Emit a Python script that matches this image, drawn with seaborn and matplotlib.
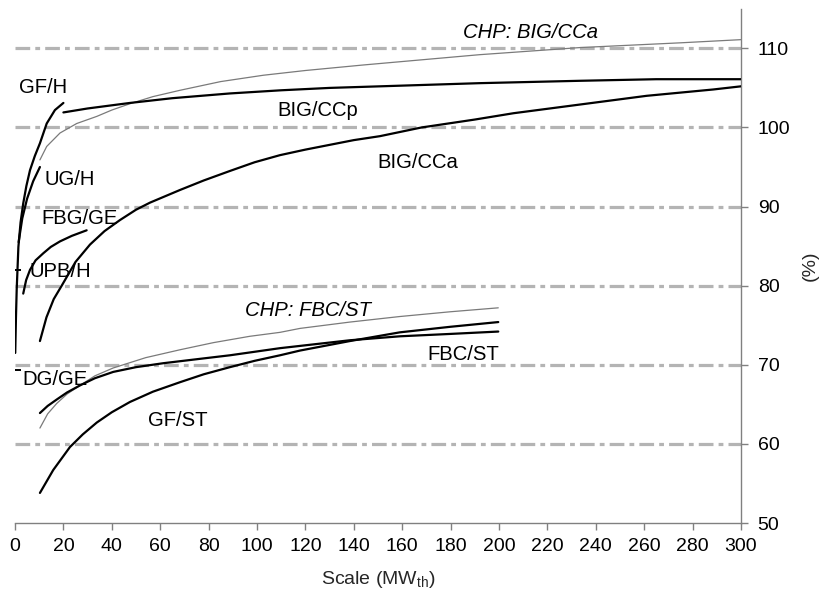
import numpy as np
import pandas as pd
import matplotlib
matplotlib.use("Agg")
import matplotlib.pyplot as plt
import seaborn as sns

# ---------------- data ----------------
gfh_x = [0.1, 0.4, 0.7, 1.4, 2.3, 3.4, 4.7, 6.2, 8.2, 10.3, 13.1, 16.5, 20.0]
gfh_y = [71.5, 76.0, 79.5, 84.9, 88.0, 90.4, 92.6, 94.6, 96.4, 98.0, 100.5, 102.2, 103.1]

ugh_x = [1.5, 3.0, 5.0, 7.5, 10.3]
ugh_y = [85.5, 88.5, 91.0, 93.2, 95.0]

fbgge_x = [3.4, 4.6, 6.2, 8.5, 11.7, 14.8, 18.6, 23.5, 29.6]
fbgge_y = [79.0, 80.7, 82.0, 83.2, 84.1, 84.9, 85.6, 86.3, 87.0]

upbh_x = [1.4]
upbh_y = [82.0]

dgge_x = [1.4]
dgge_y = [69.3]

bigcca_x = [10.3, 13, 16, 19.3, 25, 31, 37, 43.4, 50, 55.8, 62, 68.2, 78, 88.8, 99,
            109.5, 120, 130, 140, 150.8, 168, 190, 206, 233.5, 261, 288.5, 300]
bigcca_y = [73.0, 76.0, 78.3, 80.0, 83.0, 85.2, 86.9, 88.3, 89.6, 90.5, 91.3, 92.1, 93.3,
            94.5, 95.6, 96.5, 97.2, 97.8, 98.4, 98.9, 100.0, 101.0, 101.8, 102.9, 104.0,
            104.8, 105.2]

bigccp_x = [20, 30, 47.5, 65, 88.8, 110, 130, 150.8, 192, 233.5, 265, 300]
bigccp_y = [101.9, 102.4, 103.1, 103.7, 104.3, 104.7, 105.0, 105.2, 105.6, 105.9, 106.1, 106.1]

chp_bigcca_x = [10.3, 13.1, 18.6, 25.5, 33.8, 40, 47.5, 57, 68.2, 85, 102.6, 120, 144,
                192, 233.5, 275, 300]
chp_bigcca_y = [95.9, 97.6, 99.3, 100.5, 101.4, 102.2, 103.0, 103.9, 104.7, 105.8, 106.6,
                107.2, 107.9, 109.2, 110.1, 110.7, 111.1]

gfst_x = [10.3, 15.8, 22.7, 28, 33.8, 40, 47.5, 57, 68.2, 78, 88.8, 99, 109.5, 117.8,
          138.4, 159, 179.8, 199.7]
gfst_y = [53.8, 56.7, 59.6, 61.2, 62.7, 64.0, 65.3, 66.6, 67.8, 68.8, 69.7, 70.5, 71.2,
          71.8, 73.0, 74.1, 74.8, 75.4]

fbcst_x = [10.3, 13.5, 17.2, 21.5, 26.9, 33, 40.6, 50, 61.3, 75, 88.8, 109.5, 138.4,
           159, 179.8, 199.7]
fbcst_y = [63.9, 64.8, 65.6, 66.5, 67.4, 68.3, 69.1, 69.7, 70.2, 70.7, 71.2, 72.1, 73.1,
           73.6, 73.9, 74.2]

chp_fbcst_x = [10.3, 13.5, 17.2, 21.5, 26.9, 33, 40.6, 54, 68.2, 82, 97, 109.5, 117.8,
               138.4, 159, 179.8, 199.7]
chp_fbcst_y = [62.0, 63.8, 65.1, 66.3, 67.4, 68.6, 69.6, 70.9, 71.9, 72.8, 73.6, 74.1,
               74.6, 75.4, 76.1, 76.7, 77.2]

x_ticks = list(range(0, 301, 20))
y_ticks = [50, 60, 70, 80, 90, 100, 110]
grid_levels = [60, 70, 80, 90, 100, 110]

# label name, x, y, italic
labels = [
    ("GF/H", 11.8, 105.0, False),
    ("UG/H", 22.7, 93.4, False),
    ("FBG/GE", 26.5, 88.5, False),
    ("UPB/H", 18.9, 81.8, False),
    ("DG/GE", 16.5, 68.1, False),
    ("GF/ST", 67.1, 63.0, False),
    ("FBC/ST", 185.3, 71.3, False),
    ("CHP: FBC/ST", 120.9, 76.9, True),
    ("BIG/CCp", 125.0, 102.2, False),
    ("BIG/CCa", 166.5, 95.6, False),
    ("CHP: BIG/CCa", 213.2, 112.0, True),
]

# ---------------- style ----------------
sns.set_theme(style="white")
plt.rcParams['font.family'] = ['Liberation Sans', 'DejaVu Sans']

fig = plt.figure(figsize=(8.22, 6.03), dpi=100)
ax = fig.add_axes([15 / 822, 80 / 603, 726 / 822, 514.2 / 603])

# grid lines
for g in grid_levels:
    ax.axhline(g, color="#b4b4b4", lw=2.3, ls=(0, (4.6, 1.6, 1.5, 1.6)), zorder=1)

black_series = [(gfh_x, gfh_y), (ugh_x, ugh_y), (fbgge_x, fbgge_y),
                (bigcca_x, bigcca_y), (bigccp_x, bigccp_y),
                (gfst_x, gfst_y), (fbcst_x, fbcst_y)]
gray_series = [(chp_bigcca_x, chp_bigcca_y), (chp_fbcst_x, chp_fbcst_y)]

for xs, ys in gray_series:
    sns.lineplot(x=xs, y=ys, ax=ax, color="#7a7a7a", lw=0.9, sort=False,
                 estimator=None, zorder=3)
for xs, ys in black_series:
    sns.lineplot(x=xs, y=ys, ax=ax, color="black", lw=1.6, sort=False,
                 estimator=None, zorder=4)

for xs, ys in [(upbh_x, upbh_y), (dgge_x, dgge_y)]:
    sns.scatterplot(x=xs, y=ys, ax=ax, marker="_", s=22, color="black",
                    linewidth=1.4, zorder=5)

for name, lx, ly, it in labels:
    ax.text(lx, ly, name, ha="center", va="center", fontsize=14.6,
            style="italic" if it else "normal", color="black", zorder=6)

ax.set_xlim(0, 300)
ax.set_ylim(50, 115)
ax.set_xticks(x_ticks)
ax.set_yticks(y_ticks)

ax.yaxis.tick_right()
ax.yaxis.set_label_position("right")
for s in ["left", "top"]:
    ax.spines[s].set_visible(False)
for s in ["bottom", "right"]:
    ax.spines[s].set_visible(True)
    ax.spines[s].set_color("#808080")
    ax.spines[s].set_linewidth(1.0)

ax.tick_params(axis="x", direction="out", length=5, width=1, color="#808080",
               labelsize=14, pad=6, bottom=True, labelcolor="black")
ax.tick_params(axis="y", direction="out", length=5, width=1, color="#808080",
               labelsize=14, pad=7, right=True, left=False, labelcolor="black")

ax.set_xlabel(r"Scale (MW$_{\mathregular{th}}$)", fontsize=14, labelpad=10)
ax.set_ylabel("(%)", fontsize=14, labelpad=8, rotation=90)
ax.grid(False)

fig.savefig("out.png", dpi=100)
